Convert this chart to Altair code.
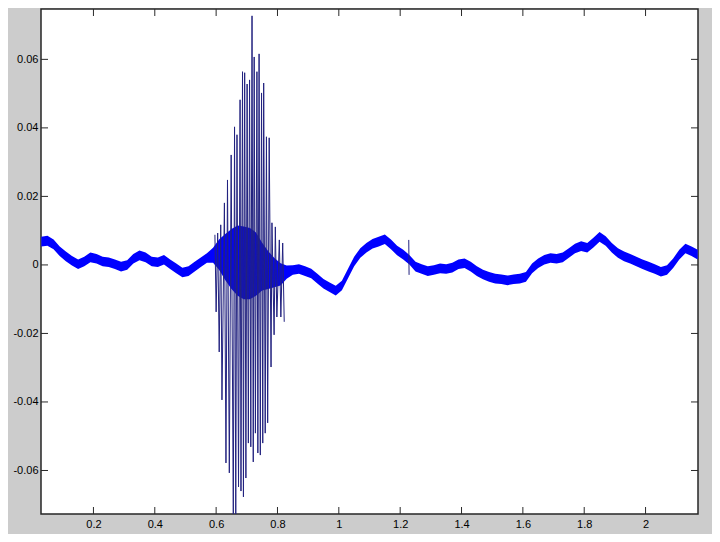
import altair as alt
import pandas as pd

# ---- baseline band: x, upper edge, lower edge ----
band_x = [0.03, 0.05, 0.07, 0.09, 0.11, 0.13, 0.15, 0.17, 0.19, 0.21, 0.23, 0.25, 0.27, 0.29,
          0.31, 0.33, 0.35, 0.37, 0.39, 0.41, 0.43, 0.45, 0.47, 0.49, 0.51, 0.53, 0.55, 0.57,
          0.59, 0.61, 0.63, 0.65, 0.67, 0.69, 0.71, 0.73, 0.75, 0.77, 0.79, 0.81, 0.83, 0.85,
          0.87, 0.89, 0.91, 0.93, 0.95, 0.97, 0.99, 1.01, 1.03, 1.05, 1.07, 1.09, 1.11, 1.13,
          1.15, 1.17, 1.19, 1.21, 1.23, 1.25, 1.27, 1.29, 1.31, 1.33, 1.35, 1.37, 1.39, 1.41,
          1.43, 1.45, 1.47, 1.49, 1.51, 1.53, 1.55, 1.57, 1.59, 1.61, 1.63, 1.65, 1.67, 1.69,
          1.71, 1.73, 1.75, 1.77, 1.79, 1.81, 1.83, 1.85, 1.87, 1.89, 1.91, 1.93, 1.95, 1.97,
          1.99, 2.01, 2.03, 2.05, 2.07, 2.09, 2.11, 2.13, 2.15, 2.17]
band_hi = [0.0082, 0.0085, 0.0074, 0.0054, 0.0039, 0.0026, 0.0016, 0.0024, 0.0036, 0.0032,
           0.0024, 0.0022, 0.0016, 0.0009, 0.0014, 0.0032, 0.0042, 0.0036, 0.0024, 0.0022,
           0.0029, 0.0016, 0.0004, -0.0008, -0.0004, 0.0009, 0.0022, 0.0034, 0.0050, 0.0075,
           0.0090, 0.0105, 0.0115, 0.0112, 0.0108, 0.0095, 0.0065, 0.0040, 0.0020, 0.0005,
           -0.0002, -0.0001, 0.0002, -0.0004, -0.0011, -0.0026, -0.0041, -0.0051, -0.0061, -0.0046,
           -0.0011, 0.0024, 0.0049, 0.0064, 0.0076, 0.0082, 0.0089, 0.0074, 0.0056, 0.0044,
           0.0029, 0.0009, 0.0002, -0.0004, -0.0001, 0.0004, 0.0002, 0.0006, 0.0016, 0.0019,
           0.0009, -0.0004, -0.0014, -0.0021, -0.0026, -0.0028, -0.0031, -0.0028, -0.0026, -0.0021,
           0.0004, 0.0019, 0.0029, 0.0034, 0.0032, 0.0036, 0.0049, 0.0062, 0.0069, 0.0064,
           0.0079, 0.0096, 0.0084, 0.0064, 0.0049, 0.0039, 0.0032, 0.0024, 0.0016, 0.0009,
           0.0002, -0.0006, -0.0001, 0.0019, 0.0044, 0.0062, 0.0054, 0.0044]
band_lo = [0.0054, 0.0056, 0.0046, 0.0026, 0.0011, -0.0002, -0.0012, -0.0004, 0.0008, 0.0004,
           -0.0004, -0.0006, -0.0012, -0.0019, -0.0014, 0.0004, 0.0014, 0.0008, -0.0004, -0.0006,
           0.0001, -0.0012, -0.0024, -0.0036, -0.0032, -0.0019, -0.0006, 0.0006, 0.0006, -0.0015,
           -0.0045, -0.0070, -0.0090, -0.0100, -0.0100, -0.0090, -0.0075, -0.0070, -0.0065, -0.0060,
           -0.0040, -0.0029, -0.0026, -0.0032, -0.0039, -0.0054, -0.0069, -0.0079, -0.0089, -0.0074,
           -0.0039, -0.0004, 0.0021, 0.0036, 0.0048, 0.0054, 0.0061, 0.0046, 0.0028, 0.0016,
           0.0001, -0.0019, -0.0026, -0.0032, -0.0029, -0.0024, -0.0026, -0.0022, -0.0012, -0.0009,
           -0.0019, -0.0032, -0.0042, -0.0049, -0.0054, -0.0056, -0.0059, -0.0056, -0.0054, -0.0049,
           -0.0024, -0.0009, 0.0001, 0.0006, 0.0004, 0.0008, 0.0021, 0.0034, 0.0041, 0.0036,
           0.0051, 0.0068, 0.0056, 0.0036, 0.0021, 0.0011, 0.0004, -0.0004, -0.0012, -0.0019,
           -0.0026, -0.0034, -0.0029, -0.0009, 0.0016, 0.0034, 0.0026, 0.0016]

# ---- burst oscillation (alternating peaks and troughs) ----
burst_x = [0.596, 0.600, 0.605, 0.610, 0.615, 0.619, 0.627, 0.632, 0.637, 0.643,
           0.649, 0.656, 0.660, 0.664, 0.668, 0.673, 0.678, 0.681, 0.686, 0.689,
           0.693, 0.697, 0.701, 0.705, 0.709, 0.713, 0.717, 0.721, 0.724, 0.728,
           0.733, 0.736, 0.740, 0.744, 0.748, 0.752, 0.755, 0.760, 0.764, 0.768,
           0.773, 0.779, 0.782, 0.789, 0.793, 0.798, 0.806, 0.811, 0.817, 0.822]
burst_y = [0.0088, -0.0137, 0.0093, -0.0254, 0.0117, -0.0394, 0.0181, -0.0578, 0.0248, -0.0607,
           0.0321, -0.0739, 0.0403, -0.0739, 0.0380, -0.0648, 0.0482, -0.0660, 0.0564, -0.0677,
           0.0561, -0.0622, 0.0528, -0.0520, 0.0540, -0.0531, 0.0727, -0.0575, 0.0607, -0.0491,
           0.0564, -0.0549, 0.0616, -0.0555, 0.0502, -0.0520, 0.0531, -0.0491, 0.0374, -0.0461,
           0.0371, -0.0298, 0.0123, -0.0204, 0.0111, -0.0152, 0.0073, -0.0152, 0.0064, -0.0166]

# ---- single glitch near x = 1.23 ----
glitch_x = [1.228, 1.229]
glitch_y = [0.0073, -0.0029]

x_ticks = [0.2, 0.4, 0.6, 0.8, 1.0, 1.2, 1.4, 1.6, 1.8, 2.0]
y_ticks = [-0.06, -0.04, -0.02, 0.0, 0.02, 0.04, 0.06]

X_DOMAIN = [0.029, 2.171]
Y_DOMAIN = [-0.0727, 0.0747]
W, H = 657, 505

band_df = pd.DataFrame({"x": band_x, "hi": band_hi, "lo": band_lo})
spike_df = pd.DataFrame({
    "x": burst_x + glitch_x,
    "y": burst_y + glitch_y,
    "seg": ["burst"] * len(burst_x) + ["glitch"] * len(glitch_x),
    "order": list(range(len(burst_x))) + list(range(len(glitch_x))),
})
xt_df = pd.DataFrame({"t": x_ticks})
yt_df = pd.DataFrame({"t": y_ticks})

xs = alt.Scale(domain=X_DOMAIN, nice=False, zero=False)
ys = alt.Scale(domain=Y_DOMAIN, nice=False, zero=False)

x_axis = alt.Axis(values=x_ticks, ticks=False, domain=False, grid=False, title=None,
                  labelExpr="format(datum.value, '~g')", labelPadding=4)
y_axis = alt.Axis(values=y_ticks, ticks=False, domain=False, grid=False, title=None,
                  labelExpr="replace(format(datum.value, '~g'), '\u2212', '-')", labelPadding=3)

band = alt.Chart(band_df).mark_area(color="#0000ff", clip=True, interpolate="linear").encode(
    x=alt.X("x:Q", scale=xs, axis=x_axis),
    y=alt.Y("hi:Q", scale=ys, axis=y_axis),
    y2="lo:Q",
)

spikes = alt.Chart(spike_df).mark_line(color="#22227f", strokeWidth=1, clip=True).encode(
    x=alt.X("x:Q", scale=xs),
    y=alt.Y("y:Q", scale=ys),
    detail="seg:N",
    order="order:Q",
)

tick_color = "#2a2a2a"
xt_bottom = alt.Chart(xt_df).mark_rule(color=tick_color, strokeWidth=1).encode(
    x=alt.X("t:Q", scale=xs), y=alt.value(H), y2=alt.value(H - 7))
xt_top = alt.Chart(xt_df).mark_rule(color=tick_color, strokeWidth=1).encode(
    x=alt.X("t:Q", scale=xs), y=alt.value(0), y2=alt.value(7))
yt_left = alt.Chart(yt_df).mark_rule(color=tick_color, strokeWidth=1).encode(
    y=alt.Y("t:Q", scale=ys), x=alt.value(0), x2=alt.value(7))
yt_right = alt.Chart(yt_df).mark_rule(color=tick_color, strokeWidth=1).encode(
    y=alt.Y("t:Q", scale=ys), x=alt.value(W - 7), x2=alt.value(W))

chart = alt.layer(band, spikes, xt_bottom, xt_top, yt_left, yt_right).properties(
    width=W, height=H,
    autosize=alt.AutoSizeParams(type="none"),
    padding={"left": 33, "top": 1, "right": 14, "bottom": 20},
    background="#cccccc",
).configure_view(
    fill="white", stroke="#262626", strokeWidth=1.5,
).configure_axis(
    labelFont="Liberation Sans", labelFontSize=11, labelColor="#000000",
)

chart.save("out.html", embed_options={"renderer": "svg", "actions": False})
